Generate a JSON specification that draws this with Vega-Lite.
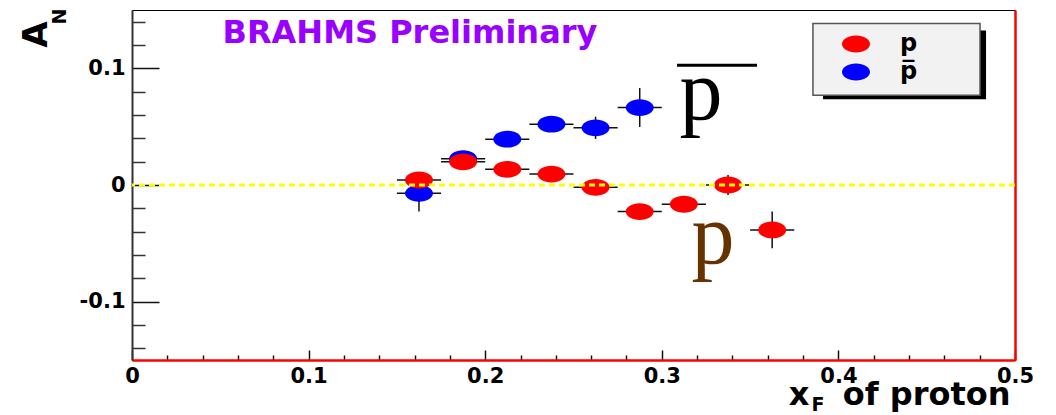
{
  "$schema": "https://vega.github.io/schema/vega-lite/v6.json",
  "width": 883,
  "height": 350,
  "autosize": "none",
  "padding": {"left": 132, "top": 10, "right": 41, "bottom": 55},
  "background": "#ffffff",
  "config": {"view": {"stroke": "#000000", "strokeWidth": 1}, "axis": {"grid": false}},
  "data": {"values": [
    {"particle": "pbar", "x": 0.1625, "y": -0.0071, "xlo": 0.15, "xhi": 0.175, "ylo": -0.0228, "yhi": 0.0086},
    {"particle": "pbar", "x": 0.1875, "y": 0.0226, "xlo": 0.175, "xhi": 0.2, "ylo": 0.0166, "yhi": 0.0286},
    {"particle": "pbar", "x": 0.2125, "y": 0.0393, "xlo": 0.2, "xhi": 0.225, "ylo": 0.0333, "yhi": 0.0453},
    {"particle": "pbar", "x": 0.2375, "y": 0.0521, "xlo": 0.225, "xhi": 0.25, "ylo": 0.0461, "yhi": 0.0581},
    {"particle": "pbar", "x": 0.2625, "y": 0.049, "xlo": 0.25, "xhi": 0.275, "ylo": 0.0395, "yhi": 0.0585},
    {"particle": "pbar", "x": 0.2875, "y": 0.0664, "xlo": 0.275, "xhi": 0.3, "ylo": 0.0497, "yhi": 0.0831},
    {"particle": "p", "x": 0.1625, "y": 0.0043, "xlo": 0.15, "xhi": 0.175, "ylo": -0.0017, "yhi": 0.0103},
    {"particle": "p", "x": 0.1875, "y": 0.0199, "xlo": 0.175, "xhi": 0.2, "ylo": 0.0139, "yhi": 0.0259},
    {"particle": "p", "x": 0.2125, "y": 0.0134, "xlo": 0.2, "xhi": 0.225, "ylo": 0.0074, "yhi": 0.0194},
    {"particle": "p", "x": 0.2375, "y": 0.0094, "xlo": 0.225, "xhi": 0.25, "ylo": 0.0034, "yhi": 0.0154},
    {"particle": "p", "x": 0.2625, "y": -0.002, "xlo": 0.25, "xhi": 0.275, "ylo": -0.008, "yhi": 0.004},
    {"particle": "p", "x": 0.2875, "y": -0.0228, "xlo": 0.275, "xhi": 0.3, "ylo": -0.0288, "yhi": -0.0168},
    {"particle": "p", "x": 0.3125, "y": -0.0165, "xlo": 0.3, "xhi": 0.325, "ylo": -0.0225, "yhi": -0.0105},
    {"particle": "p", "x": 0.3375, "y": 0.0, "xlo": 0.325, "xhi": 0.35, "ylo": -0.0085, "yhi": 0.0085},
    {"particle": "p", "x": 0.3625, "y": -0.0385, "xlo": 0.35, "xhi": 0.375, "ylo": -0.0542, "yhi": -0.0228}
  ]},
  "resolve": {"axis": {"x": "independent", "y": "independent"}},
  "layer": [
    {
      "data": {"values": [{}]},
      "mark": {"type": "rect", "fill": "#000000"},
      "encoding": {
        "x": {"datum": 0.3913, "type": "quantitative", "scale": {"domain": [0, 0.5], "nice": false, "zero": false},
              "axis": {"orient": "bottom", "values": [0.02, 0.04, 0.06, 0.08, 0.12, 0.14, 0.16, 0.18, 0.22, 0.24, 0.26, 0.28, 0.32, 0.34, 0.36, 0.38, 0.42, 0.44, 0.46, 0.48],
                       "tickSize": -5, "tickColor": "#111111", "tickWidth": 1.5, "labels": false, "domain": false, "title": null, "grid": false}},
        "x2": {"datum": 0.4836},
        "y": {"datum": 0.1325, "type": "quantitative", "scale": {"domain": [-0.15, 0.15], "nice": false, "zero": false},
              "axis": {"orient": "left", "values": [-0.14, -0.12, -0.08, -0.06, -0.04, -0.02, 0.02, 0.04, 0.06, 0.08, 0.12, 0.14],
                       "tickSize": -13, "tickColor": "#333333", "tickWidth": 1.5, "labels": false, "domain": false, "title": null, "grid": false}},
        "y2": {"datum": 0.0735}
      }
    },
    {
      "data": {"values": [{}]},
      "mark": {"type": "rect", "fill": "#f2f2f2", "stroke": "#555555", "strokeWidth": 1.5},
      "encoding": {
        "x": {"datum": 0.3856, "type": "quantitative", "scale": {"domain": [0, 0.5], "nice": false, "zero": false}, "axis": null},
        "x2": {"datum": 0.4802},
        "y": {"datum": 0.1385, "type": "quantitative", "scale": {"domain": [-0.15, 0.15], "nice": false, "zero": false},
              "axis": {"orient": "right", "domainColor": "#ff0000", "domainWidth": 2.5, "ticks": false, "labels": false, "title": null, "grid": false}},
        "y2": {"datum": 0.0769}
      }
    },
    {
      "mark": {"type": "rule", "color": "#111111", "strokeWidth": 1.5},
      "encoding": {
        "x": {"field": "xlo", "type": "quantitative", "scale": {"domain": [0, 0.5], "nice": false, "zero": false}, "axis": null},
        "x2": {"field": "xhi"},
        "y": {"field": "y", "type": "quantitative", "scale": {"domain": [-0.15, 0.15], "nice": false, "zero": false}, "axis": null}
      }
    },
    {
      "mark": {"type": "rule", "color": "#111111", "strokeWidth": 1.5},
      "encoding": {
        "x": {"field": "x", "type": "quantitative", "scale": {"domain": [0, 0.5], "nice": false, "zero": false}, "axis": null},
        "y": {"field": "ylo", "type": "quantitative", "scale": {"domain": [-0.15, 0.15], "nice": false, "zero": false}, "axis": null},
        "y2": {"field": "yhi"}
      }
    },
    {
      "mark": {"type": "point", "filled": true, "opacity": 1, "size": 784, "strokeWidth": 0,
               "shape": "M-1,0A1,0.6 0 1,0 1,0A1,0.6 0 1,0 -1,0Z"},
      "encoding": {
        "x": {"field": "x", "type": "quantitative", "scale": {"domain": [0, 0.5], "nice": false, "zero": false},
              "axis": {"orient": "bottom", "values": [0, 0.1, 0.2, 0.3, 0.4, 0.5], "labelExpr": "'' + datum.value",
                       "tickSize": -10, "tickColor": "#111111", "tickWidth": 1.5,
                       "domainColor": "#ff0000", "domainWidth": 2.5,
                       "labelPadding": 15, "labelFont": "DejaVu Sans", "labelFontWeight": "bold", "labelFontSize": 21, "labelColor": "#000000",
                       "labelFlush": false, "labelOverlap": false, "grid": false,
                       "title": "x\u00a0\u00a0\u00a0of proton", "titleFont": "DejaVu Sans", "titleFontWeight": "bold", "titleFontSize": 32, "titleColor": "#000000",
                       "titleX": 878, "titleY": 44, "titleAlign": "right", "titleBaseline": "alphabetic", "titleAngle": 0}},
        "y": {"field": "y", "type": "quantitative", "scale": {"domain": [-0.15, 0.15], "nice": false, "zero": false},
              "axis": {"orient": "left", "values": [-0.1, 0, 0.1], "labelExpr": "'' + datum.value",
                       "tickSize": -27, "tickColor": "#111111", "tickWidth": 1.5,
                       "domainColor": "#333333", "domainWidth": 2,
                       "labelPadding": 34, "labelFont": "DejaVu Sans", "labelFontWeight": "bold", "labelFontSize": 21, "labelColor": "#000000",
                       "labelOverlap": false, "grid": false,
                       "title": "A", "titleFont": "DejaVu Sans", "titleFontWeight": "bold", "titleFontSize": 34, "titleColor": "#000000",
                       "titleAngle": 270, "titleX": -86, "titleY": 24, "titleAlign": "center", "titleBaseline": "alphabetic"}},
        "color": {"field": "particle", "type": "nominal",
                  "scale": {"domain": ["p", "pbar"], "range": ["#ff0000", "#0000ff"]},
                  "legend": {"orient": "none", "legendX": 710, "legendY": 20, "title": null,
                             "labelExpr": "datum.label == 'pbar' ? 'p\u0305' : 'p'",
                             "symbolType": "M-1,0A1,0.6 0 1,0 1,0A1,0.6 0 1,0 -1,0Z", "symbolSize": 784, "symbolStrokeWidth": 0, "symbolOpacity": 1,
                             "labelFont": "DejaVu Sans", "labelFontWeight": "bold", "labelFontSize": 24, "labelColor": "#000000",
                             "labelOffset": 30, "rowPadding": 2, "padding": 0, "symbolOffset": 0}}
      }
    },
    {
      "data": {"values": [{}]},
      "mark": {"type": "rule", "color": "#ffff00", "strokeWidth": 3, "strokeDash": [6, 4]},
      "encoding": {
        "y": {"datum": 0, "type": "quantitative", "scale": {"domain": [-0.15, 0.15], "nice": false, "zero": false}, "axis": null}
      }
    },
    {
      "data": {"values": [{}]},
      "mark": {"type": "rule", "color": "#000000", "strokeWidth": 3},
      "encoding": {
        "x": {"datum": 0.3086, "type": "quantitative", "scale": {"domain": [0, 0.5], "nice": false, "zero": false}, "axis": null},
        "x2": {"datum": 0.3539},
        "y": {"datum": 0.1026, "type": "quantitative", "scale": {"domain": [-0.15, 0.15], "nice": false, "zero": false}, "axis": null}
      }
    },
    {
      "data": {"values": [{}]},
      "mark": {"type": "text", "text": "p", "font": "Liberation Serif", "fontSize": 86, "color": "#000000", "align": "center", "baseline": "alphabetic"},
      "encoding": {
        "x": {"datum": 0.3222, "type": "quantitative", "scale": {"domain": [0, 0.5], "nice": false, "zero": false}, "axis": null},
        "y": {"datum": 0.0564, "type": "quantitative", "scale": {"domain": [-0.15, 0.15], "nice": false, "zero": false}, "axis": null}
      }
    },
    {
      "data": {"values": [{}]},
      "mark": {"type": "text", "text": "p", "font": "Liberation Serif", "fontSize": 86, "color": "#663300", "align": "center", "baseline": "alphabetic"},
      "encoding": {
        "x": {"datum": 0.329, "type": "quantitative", "scale": {"domain": [0, 0.5], "nice": false, "zero": false}, "axis": null},
        "y": {"datum": -0.0667, "type": "quantitative", "scale": {"domain": [-0.15, 0.15], "nice": false, "zero": false}, "axis": null}
      }
    },
    {
      "data": {"values": [{}]},
      "mark": {"type": "text", "text": "BRAHMS Preliminary", "font": "DejaVu Sans", "fontWeight": "bold", "fontSize": 32, "color": "#9900ff", "align": "center", "baseline": "alphabetic"},
      "encoding": {
        "x": {"datum": 0.1574, "type": "quantitative", "scale": {"domain": [0, 0.5], "nice": false, "zero": false}, "axis": null},
        "y": {"datum": 0.1214, "type": "quantitative", "scale": {"domain": [-0.15, 0.15], "nice": false, "zero": false}, "axis": null}
      }
    },
    {
      "data": {"values": [{}]},
      "mark": {"type": "text", "text": "F", "font": "DejaVu Sans", "fontWeight": "bold", "fontSize": 19, "color": "#000000", "align": "center", "baseline": "alphabetic", "dy": 51},
      "encoding": {
        "x": {"datum": 0.3884, "type": "quantitative", "scale": {"domain": [0, 0.5], "nice": false, "zero": false}, "axis": null},
        "y": {"datum": -0.15, "type": "quantitative", "scale": {"domain": [-0.15, 0.15], "nice": false, "zero": false}, "axis": null}
      }
    },
    {
      "data": {"values": [{}]},
      "mark": {"type": "text", "text": "N", "font": "DejaVu Sans", "fontWeight": "bold", "fontSize": 19, "color": "#000000", "align": "center", "baseline": "alphabetic", "angle": 270, "dx": -6.5, "dy": -66},
      "encoding": {
        "x": {"datum": 0, "type": "quantitative", "scale": {"domain": [0, 0.5], "nice": false, "zero": false}, "axis": null},
        "y": {"datum": 0.15, "type": "quantitative", "scale": {"domain": [-0.15, 0.15], "nice": false, "zero": false}, "axis": null}
      }
    }
  ]
}
